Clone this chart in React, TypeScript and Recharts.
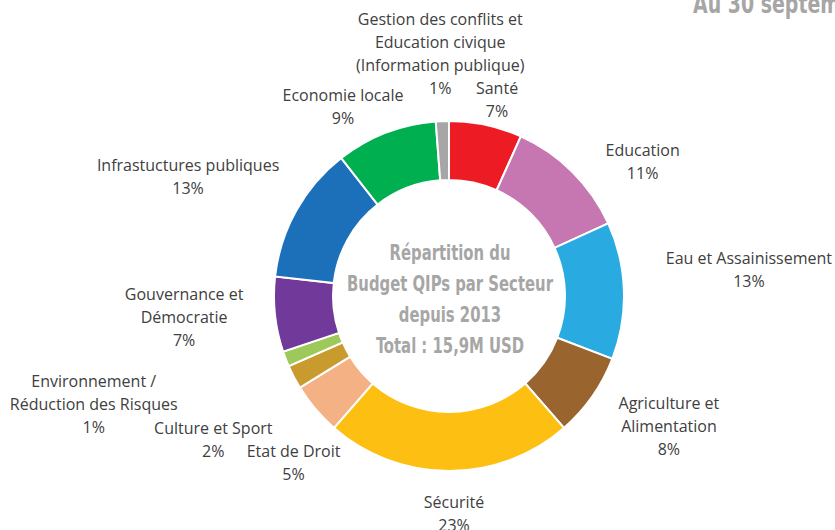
import React from "react";
import { PieChart, Pie, Cell } from "recharts";

const categories = [
  "Santé",
  "Education",
  "Eau et Assainissement",
  "Agriculture et\nAlimentation",
  "Sécurité",
  "Etat de Droit",
  "Culture et Sport",
  "Environnement /\nRéduction des Risques",
  "Gouvernance et\nDémocratie",
  "Infrastuctures publiques",
  "Economie locale",
  "Gestion des conflits et\nEducation civique\n(Information publique)",
];
const budgetShare = [6.7, 11.4, 12.6, 7.7, 22.7, 4.8, 2.2, 1.4, 6.9, 12.6, 9.3, 1.2];
const centerTitle = ["Répartition du", "Budget QIPs par Secteur", "depuis 2013", "Total : 15,9M USD"];
const dateTitle = "Au 30 septembre";

const COLORS = [
  "#ED1C24", "#C677B1", "#29ABE2", "#9A642E", "#FDBF12", "#F4B183",
  "#C99A2E", "#9CC95A", "#70399A", "#1B70B9", "#00B050", "#A6A6A6",
];
// label nudges (layout only) relative to a point just outside each slice
const LABEL_NUDGE: [number, number][] = [
  [5, 4], [49, 11], [95, -20], [52, 12], [5, 12], [1, 34],
  [-54, 49], [-164, 34], [-61, -1], [-82, -19], [-32, 2], [-1, -38],
];

const data = categories.map((name, i) => ({ name, value: budgetShare[i] }));

const RAD = Math.PI / 180;
const LINE_H = 23;

const renderLabel = (props: any) => {
  const { cx, cy, midAngle, outerRadius, index, percent } = props;
  const r = outerRadius + 30;
  const x = cx + r * Math.cos(-midAngle * RAD) + LABEL_NUDGE[index][0];
  const y = cy + r * Math.sin(-midAngle * RAD) + LABEL_NUDGE[index][1];
  const lines = [...categories[index].split("\n"), `${Math.round(percent * 100)}%`];
  const n = lines.length;
  return (
    <text
      key={`lbl-${index}`}
      x={x}
      y={y}
      textAnchor="middle"
      fill="#404040"
      fontSize={16}
      fontFamily="'Open Sans', sans-serif"
    >
      {lines.map((t, i) => (
        <tspan key={i} x={x} y={y + (i - (n - 1) / 2) * LINE_H} dominantBaseline="central">
          {t}
        </tspan>
      ))}
    </text>
  );
};

export default function App() {
  return (
    <div style={{ position: "absolute", left: 0, top: 0, width: 835, height: 530, background: "#fff", overflow: "hidden" }}>
      <PieChart width={835} height={530} margin={{ top: 0, right: 0, bottom: 0, left: 0 }}>
        <Pie
          data={data}
          dataKey="value"
          nameKey="name"
          cx={449}
          cy={296}
          innerRadius={116}
          outerRadius={175}
          startAngle={90}
          endAngle={-270}
          stroke="#ffffff"
          strokeWidth={2}
          label={renderLabel}
          labelLine={false}
          isAnimationActive={false}
        >
          {data.map((d, i) => (
            <Cell key={d.name} fill={COLORS[i]} />
          ))}
        </Pie>
      </PieChart>
      <div
        style={{
          position: "absolute",
          left: 250,
          width: 400,
          top: 237,
          textAlign: "center",
          color: "#A6A6A6",
          fontFamily: "'DejaVu Sans Condensed', 'DejaVu Sans', sans-serif",
          fontWeight: "bold",
          fontSize: 22,
          lineHeight: "31px",
          transform: "scaleX(0.75)",
          transformOrigin: "200px 0",
        }}
      >
        {centerTitle.map((t) => (
          <div key={t}>{t}</div>
        ))}
      </div>
      <div
        style={{
          position: "absolute",
          left: 693,
          top: -12,
          whiteSpace: "nowrap",
          color: "#A6A6A6",
          fontFamily: "'DejaVu Sans Condensed', 'DejaVu Sans', sans-serif",
          fontWeight: "bold",
          fontSize: 27,
          transform: "scaleX(0.78)",
          transformOrigin: "0 0",
        }}
      >
        {dateTitle}
      </div>
    </div>
  );
}
